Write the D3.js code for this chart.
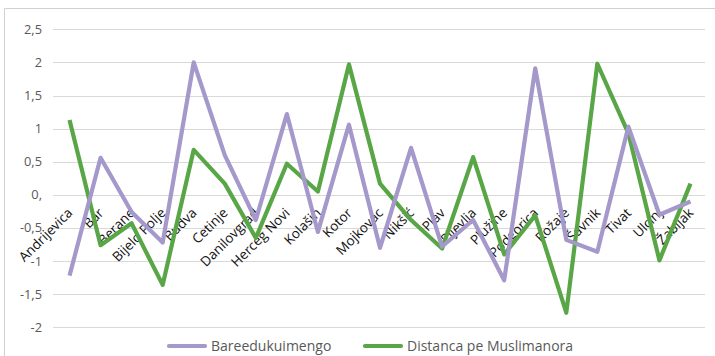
<!DOCTYPE html>
<html><head><meta charset="utf-8">
<script src="https://cdn.jsdelivr.net/npm/d3@7"></script>
<style>body{margin:0;background:#fff;}svg{display:block;font-family:"Open Sans",sans-serif;}</style>
</head><body>
<svg id="c" width="715" height="356"></svg>
<script>
const categories = ["Andrijevica","Bar","Berane","Bijelo Polje","Budva","Cetinje","Danilovgrad","Herceg Novi","Kolašin","Kotor","Mojkovac","Nikšić","Plav","Pljevlja","Plužine","Podgorica","Rožaje","Šavnik","Tivat","Ulcinj","Žabljak"];
const bareedukuimengo = [-1.22,0.56,-0.26,-0.72,2.0,0.6,-0.38,1.22,-0.56,1.06,-0.8,0.71,-0.78,-0.38,-1.29,1.91,-0.68,-0.86,1.03,-0.3,-0.1];
const distanca = [1.13,-0.76,-0.43,-1.36,0.68,0.17,-0.65,0.47,0.05,1.97,0.17,-0.38,-0.81,0.57,-0.9,-0.31,-1.78,1.98,0.93,-0.99,0.17];
const yTicks = [2.5,2,1.5,1,0.5,0,-0.5,-1,-1.5,-2];
const yTickLabels = ["2,5","2","1,5","1","0,5","0,","-0,5","-1","-1,5","-2"];
const seriesNames = ["Bareedukuimengo","Distanca pe Muslimanora"];
const colors = {purple:"#a598cb", green:"#59a646"};

const svg = d3.select("#c");
// outer border
svg.append("path").attr("d","M4.5,356 V8.5 H715").attr("fill","none").attr("stroke","#d0d0d0").attr("stroke-width",1);

const x = d3.scaleBand().domain(categories).range([54,706]).padding(0);
const y = d3.scaleLinear().domain([-2,2.5]).range([327.3,29.3]);
const cx = c => x(c) + x.bandwidth()/2;

// gridlines
svg.append("g").selectAll("line").data(yTicks).join("line")
  .attr("x1",53).attr("x2",705)
  .attr("y1",d=>Math.round(y(d))+0.5).attr("y2",d=>Math.round(y(d))+0.5)
  .attr("stroke","#d9d9d9").attr("stroke-width",1.2);

// y labels
svg.append("g").selectAll("text").data(yTicks).join("text")
  .attr("x",42).attr("y",d=>y(d)).attr("dy","0.35em")
  .attr("text-anchor","end").attr("fill","#595959").attr("font-size","12.8px")
  .text((d,i)=>yTickLabels[i]);

const line = d3.line().x((d,i)=>cx(categories[i])).y(d=>y(d));
// x labels (drawn before lines so lines overlay)
svg.append("g").selectAll("text").data(categories).join("text")
  .attr("transform",d=>`translate(${cx(d)-3},${y(0)+12}) rotate(-45)`)
  .attr("text-anchor","end").attr("dy","0.72em")
  .attr("fill","#111").attr("font-size","13.5px")
  .text(d=>d);

svg.append("path").datum(distanca).attr("d",line).attr("fill","none")
  .attr("stroke",colors.green).attr("stroke-width",4.2).attr("stroke-linejoin","round");
svg.append("path").datum(bareedukuimengo).attr("d",line).attr("fill","none")
  .attr("stroke",colors.purple).attr("stroke-width",4.2).attr("stroke-linejoin","round");

// legend
const leg = [{n:seriesNames[0],c:colors.purple,x:169},{n:seriesNames[1],c:colors.green,x:365}];
const lg = svg.append("g").selectAll("g").data(leg).join("g");
lg.append("line").attr("x1",d=>d.x).attr("x2",d=>d.x+36).attr("y1",346).attr("y2",346)
  .attr("stroke",d=>d.c).attr("stroke-width",4.2).attr("stroke-linecap","round");
lg.append("text").attr("x",d=>d.x+42).attr("y",346).attr("dy","0.35em")
  .attr("fill","#595959").attr("font-size","14px").text(d=>d.n);
</script>
</body></html>
